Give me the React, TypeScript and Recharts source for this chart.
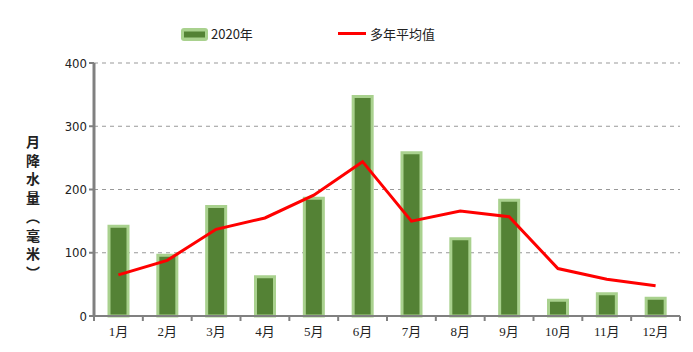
import React from 'react';
import { ComposedChart, Bar, Line, XAxis, YAxis, CartesianGrid } from 'recharts';

const months = ['1月', '2月', '3月', '4月', '5月', '6月', '7月', '8月', '9月', '10月', '11月', '12月'];
const rain2020 = [142, 96, 173, 62, 186, 347, 258, 122, 183, 25, 35, 28];
const avgRain = [65, 88, 137, 155, 191, 244, 150, 166, 157, 75, 58, 48];
const yTicks = [0, 100, 200, 300, 400];
const yLabelChars = ['月', '降', '水', '量', '(', '毫', '米', ')'];
const seriesNames = ['2020年', '多年平均值'];

const data = months.map((m, i) => ({ month: m, y2020: rain2020[i], avg: avgRain[i] }));

const W = 693;
const H = 352;
const M = { top: 63, right: 13, bottom: 6, left: 0 };
const Y_AXIS_W = 94;
const plotW = W - M.left - Y_AXIS_W - M.right;
const band = plotW / months.length;

const serif = '"Liberation Serif", "Noto Sans CJK SC", serif';
const cjk = '"Noto Sans CJK SC", sans-serif';

const XTick = (props: any) => {
  const { x, y, payload, index } = props;
  const half = band / 2;
  return (
    <g>
      <line x1={x - half} y1={y - 8} x2={x - half} y2={y - 3} stroke="#808080" strokeWidth={2} />
      {index === months.length - 1 && (
        <line x1={x + half} y1={y - 8} x2={x + half} y2={y - 3} stroke="#808080" strokeWidth={2} />
      )}
      <text x={x} y={y + 12} textAnchor="middle" fontSize={13} fill="#222" fontFamily={serif}>
        {payload.value}
      </text>
    </g>
  );
};

const YLabel = () => (
  <text x={33} y={147} textAnchor="middle" fontSize={14} fontWeight="bold" fill="#222" fontFamily={cjk}>
    {yLabelChars.map((c, i) => (
      <tspan key={i} x={33} dy={i === 0 ? 0 : 18.7}>
        {c === '(' ? '︵' : c === ')' ? '︶' : c}
      </tspan>
    ))}
  </text>
);

const LegendBox = () => (
  <svg width={W} height={50} style={{ position: 'absolute', left: 0, top: 0, display: 'block' }}>
    <rect x={181} y={28} width={27} height={13} rx={3} fill="#a9d18e" />
    <rect x={184} y={31.5} width={21} height={6} fill="#548235" />
    <text x={211} y={39} fontSize={13} fill="#222" fontFamily={'"Liberation Sans Narrow", "Noto Sans CJK SC", sans-serif'}>
      {seriesNames[0]}
    </text>
    <line x1={338} y1={33.5} x2={366} y2={33.5} stroke="#ff0000" strokeWidth={3} />
    <text x={370} y={39} fontSize={13} fill="#222" fontFamily={cjk}>
      {seriesNames[1]}
    </text>
  </svg>
);

export default function App() {
  return (
    <div style={{ position: 'absolute', left: 0, top: 0, width: W, height: H, background: '#fff' }}>
      <ComposedChart width={W} height={H} data={data} margin={M}>
        <CartesianGrid horizontal vertical={false} stroke="#999" strokeDasharray="4 4" />
        <XAxis
          dataKey="month"
          tick={<XTick />}
          tickLine={false}
          axisLine={{ stroke: '#808080', strokeWidth: 2 }}
          height={30}
          interval={0}
        />
        <YAxis
          width={Y_AXIS_W}
          domain={[0, 400]}
          ticks={yTicks}
          interval={0}
          axisLine={{ stroke: '#808080', strokeWidth: 3 }}
          tickLine={{ stroke: '#808080', strokeWidth: 2 }}
          tickSize={5}
          tick={{ fontSize: 13, fill: '#222', fontFamily: '"DejaVu Sans Condensed", "Liberation Sans", sans-serif' }}
          label={<YLabel />}
        />
        <Bar
          dataKey="y2020"
          name={seriesNames[0]}
          fill="#548235"
          stroke="#a9d18e"
          strokeWidth={3}
          barSize={19}
          isAnimationActive={false}
        />
        <Line
          dataKey="avg"
          name={seriesNames[1]}
          type="linear"
          stroke="#ff0000"
          strokeWidth={3}
          dot={false}
          activeDot={false}
          isAnimationActive={false}
        />
      </ComposedChart>
      <LegendBox />
    </div>
  );
}
